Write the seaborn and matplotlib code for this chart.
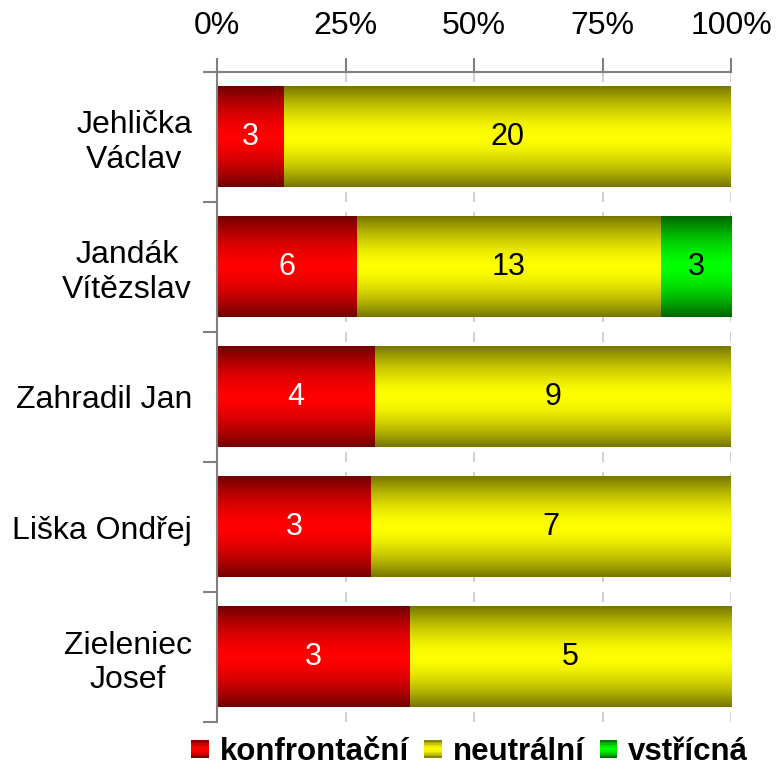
import numpy as np
import pandas as pd
import matplotlib
matplotlib.use("Agg")
import matplotlib.pyplot as plt
import seaborn as sns
from matplotlib.patches import Rectangle
from matplotlib.legend_handler import HandlerBase

# data
politicians = ["Jehlička\nVáclav", "Jandák\nVítězslav", "Zahradil Jan", "Liška Ondřej", "Zieleniec\nJosef"]
konfrontacni = [3, 6, 4, 3, 3]
neutralni = [20, 13, 9, 7, 5]
vstricna = [0, 3, 0, 0, 0]
series_names = ["konfrontační", "neutrální", "vstřícná"]
xticks = [0, 25, 50, 75, 100]

# gradient colours (dark edge, bright middle) and text colour per series
dark_cols = [(0.45, 0.0, 0.0), (0.47, 0.47, 0.0), (0.0, 0.40, 0.0)]
bright_cols = [(1.0, 0.0, 0.0), (1.0, 1.0, 0.0), (0.0, 1.0, 0.0)]
text_cols = ["white", "black", "black"]

sns.set_theme(style="white")
plt.rcParams["font.family"] = ["Liberation Sans", "DejaVu Sans"]
plt.rcParams["text.color"] = "black"


def shade(t, dark, bright):
    f = 1 - np.abs(2 * t - 1) ** 1.6
    return tuple(d + (b - d) * f for d, b in zip(dark, bright))


def gradient(dark, bright, n=64):
    t = np.linspace(0, 1, n)
    return np.array([[shade(v, dark, bright)] for v in t])


class GradientHandler(HandlerBase):
    def __init__(self, dark, bright):
        super().__init__()
        self.dark = dark
        self.bright = bright

    def create_artists(self, legend, orig_handle, xdescent, ydescent,
                       width, height, fontsize, trans):
        size = width
        y0 = -ydescent + (height - size) / 2
        n = 12
        arts = []
        for k in range(n):
            t = (k + 0.5) / n
            r = Rectangle((-xdescent, y0 + size * k / n), size, size / n,
                          facecolor=shade(t, self.dark, self.bright),
                          edgecolor="none", transform=trans)
            arts.append(r)
        return arts


df = pd.DataFrame({"name": politicians, "k": konfrontacni,
                   "n": neutralni, "v": vstricna})
total = df[["k", "n", "v"]].sum(axis=1)
layers = ["k", "n", "v"]
for col in layers:
    df[col + "_pct"] = df[col] / total * 100
df["c1"] = df["k_pct"]
df["c2"] = df["c1"] + df["n_pct"]
df["c3"] = df["c2"] + df["v_pct"]

fig = plt.figure(figsize=(7.78, 7.65), dpi=100)
ax = fig.add_axes([0.279, 0.0562, 0.6607, 0.8497])

layer_patches = []
for cum in ["c3", "c2", "c1"]:
    before = len(ax.patches)
    sns.barplot(data=df, x=cum, y="name", orient="h", order=politicians,
                width=0.77, color="white", errorbar=None, ax=ax)
    layer_patches.append(list(ax.patches[before:]))
layer_patches = layer_patches[::-1]  # k, n, v

starts = [np.zeros(len(df)), df["c1"].values, df["c2"].values]
for li, col in enumerate(layers):
    img = gradient(dark_cols[li], bright_cols[li])
    for i, p in enumerate(layer_patches[li]):
        p.set_facecolor("none")
        p.set_edgecolor("none")
        x0 = starts[li][i]
        x1 = p.get_x() + p.get_width()
        if x1 - x0 <= 0:
            continue
        y0 = p.get_y()
        h = p.get_height()
        ax.imshow(img, extent=(x0, x1, y0 + h, y0), aspect="auto",
                  interpolation="bilinear", zorder=2 + li)
        ax.text((x0 + x1) / 2, y0 + h / 2, str(df[col].iloc[i]),
                ha="center", va="center", fontsize=22,
                color=text_cols[li], zorder=10)

ax.set_xlim(0, 100)
ax.set_ylim(len(politicians) - 0.5, -0.5)
ax.set_xlabel("")
ax.set_ylabel("")

# x axis on top
ax.xaxis.tick_top()
ax.set_xticks(xticks)
ax.set_xticklabels([f"{v}%" for v in xticks])
ax.tick_params(axis="x", which="major", top=True, bottom=False, direction="out",
               length=10, width=1.5, color="#808080", labelsize=23, pad=12,
               labelcolor="black")
ax.xaxis.grid(True, linestyle=(0, (6, 6)), color="#c8c8c8", linewidth=1.2)
ax.yaxis.grid(False)
ax.set_axisbelow(True)

# y axis: labels centred on bars, ticks between categories
ax.set_yticks(range(len(politicians)))
ax.set_yticklabels(politicians)
ax.set_yticks(np.arange(-0.5, len(politicians), 1.0), minor=True)
ax.tick_params(axis="y", which="major", length=0, labelsize=23, pad=18,
               labelcolor="black")
ax.tick_params(axis="y", which="minor", left=True, direction="out",
               length=10, width=1.5, color="#808080")
for lab in ax.get_yticklabels():
    lab.set_multialignment("center")

for side in ["right", "bottom"]:
    ax.spines[side].set_visible(False)
for side in ["left", "top"]:
    ax.spines[side].set_color("#808080")
    ax.spines[side].set_linewidth(1.5)

handles = [Rectangle((0, 0), 1, 1) for _ in series_names]
handler_map = {h: GradientHandler(dark_cols[i], bright_cols[i])
               for i, h in enumerate(handles)}
leg = fig.legend(handles, series_names, handler_map=handler_map, loc="center",
                 bbox_to_anchor=(0.604, 0.017), ncol=3, frameon=False,
                 prop={"weight": "bold", "size": 22.5}, handlelength=0.55,
                 handletextpad=0.35, columnspacing=0.5, borderpad=0)
for t in leg.get_texts():
    t.set_color("black")

fig.savefig("out.png", dpi=100)
